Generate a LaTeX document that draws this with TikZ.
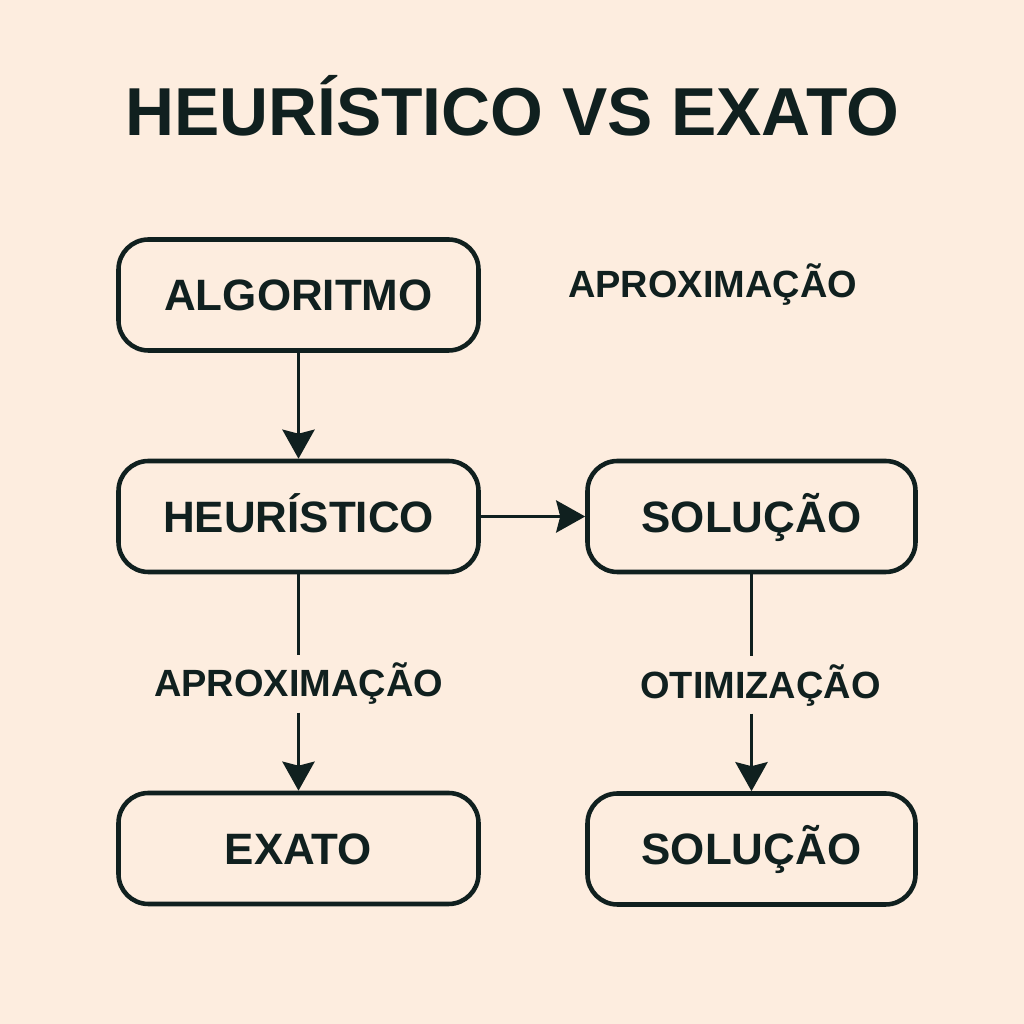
\documentclass[tikz,border=0pt]{standalone}
\usepackage{fontspec}
\setmainfont{Liberation Sans}
\usetikzlibrary{arrows.meta}
\definecolor{bg}{HTML}{FDEDDF}
\definecolor{ink}{HTML}{10201F}

\begin{document}
\begin{tikzpicture}[
		box/.style={draw=ink, line width=1.3pt, rounded corners=0.3cm, fill=bg,
			minimum height=1.11cm, text height=9pt, text depth=0pt,
			font=\fontsize{12.5}{15}\selectfont\bfseries, text=ink},
		wide/.style={box, minimum width=3.6cm},
		narrow/.style={box, minimum width=3.28cm},
		lbl/.style={font=\fontsize{10.8}{13}\selectfont\bfseries, text=ink, inner sep=2pt},
		>={Stealth[length=2.9mm,width=3.2mm,inset=0.4mm]}
	]
			\fill[bg] (0,0) rectangle (10.24,10.24);
			\useasboundingbox (0,0) rectangle (10.24,10.24);
			
			\node	(title) at (5.12,8.88) [anchor=base, text=ink, font=\fontsize{19.3}{23}\selectfont\bfseries] {HEURÍSTICO VS EXATO};
			
			\node	(algo) at (2.985,7.29) [wide] {ALGORITMO};
			\node	(heur) at (2.985,5.075) [wide] {HEURÍSTICO};
			\node	(solA) at (7.515,5.075) [narrow] {SOLUÇÃO};
			\node	(exato) at (2.985,1.755) [wide] {EXATO};
			\node	(solB) at (7.515,1.75) [narrow] {SOLUÇÃO};
			
			\node	(aprox) at (7.125,7.26) [lbl, anchor=base] {APROXIMAÇÃO};
			\node	(aproxB) at (2.985,3.27) [lbl, anchor=base] {APROXIMAÇÃO};
			\node	(otim) at (7.605,3.26) [lbl, anchor=base] {OTIMIZAÇÃO};
			
			\draw[ink, line width=1.1pt]
			(algo) edge[->] (heur)
			(heur) edge[->] (solA)
			(heur) edge (aproxB)
			(aproxB) edge[->] (exato)
			(solA) edge (solA |- otim.north)
			(solA |- otim.south) edge[->] (solB)
			;
		\end{tikzpicture}
\end{document}
